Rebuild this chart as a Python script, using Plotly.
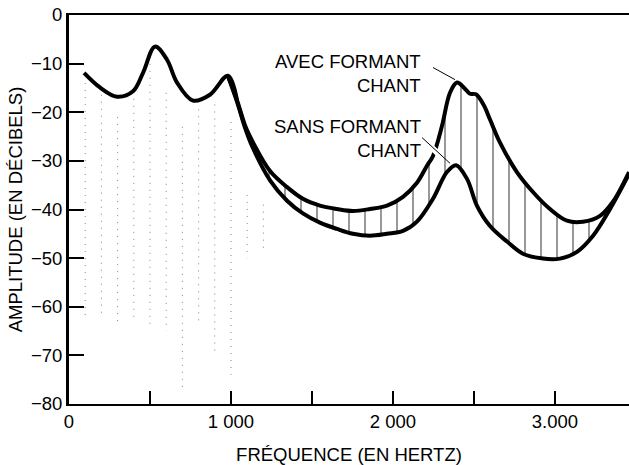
import plotly.graph_objects as go

# Spectrum envelope shared by both voices below ~1 kHz (Hz, dB)
shared_hz = [93, 191, 296, 395, 457, 531, 605, 667, 765, 870, 981]
shared_db = [-11.9, -14.9, -16.8, -15.7, -11.9, -6.5, -9.2, -13.9, -17.6, -16.4, -12.5]

# Upper envelope: with the singer's formant
avec_hz = [1037, 1090, 1136, 1241, 1346, 1444, 1549, 1654, 1753, 1858, 1963, 2062,
           2148, 2210, 2247, 2302, 2352, 2395, 2440, 2475, 2512, 2560, 2599, 2660,
           2765, 2864, 2969, 3074, 3173, 3278, 3358, 3457]
avec_db = [-17.5, -23.0, -26.2, -32.1, -35.4, -37.8, -39.2, -39.9, -40.3, -39.9, -39.2, -37.4,
           -34.5, -31.0, -29.0, -22.9, -16.0, -13.9, -15.0, -16.2, -16.3, -18.5, -21.5, -26.2,
           -32.3, -36.4, -39.9, -42.3, -42.5, -41.3, -38.4, -32.3]

# Lower envelope: without the singer's formant
sans_hz = [1037, 1090, 1136, 1241, 1346, 1444, 1549, 1654, 1753, 1858, 1963, 2062,
           2148, 2247, 2333, 2389, 2457, 2518, 2599, 2704, 2802, 2926, 3031, 3136,
           3235, 3340, 3457]
sans_db = [-17.8, -23.5, -27.4, -34.0, -38.2, -40.8, -42.7, -44.0, -45.0, -45.4, -45.0, -44.4,
           -42.5, -37.8, -32.3, -30.9, -33.7, -39.2, -43.4, -46.6, -49.1, -50.1, -50.1, -48.7,
           -45.4, -39.9, -32.7]

# Faint harmonic stems under the low-frequency envelope
stem_hz = [100, 200, 300, 400, 500, 600, 700, 800, 900, 1000, 1100, 1200]
stem_top_db = [-14, -16.4, -21, -15.8, -8.6, -16, -23, -19.4, -18.4, -22, -37, -39]
stem_floor_db = [-62, -62, -63, -63, -64.5, -65, -77, -64, -69, -74, -50, -48]

x_tick_vals = [0, 500, 1000, 1500, 2000, 2500, 3000]
x_tick_text = ["0", "", "1 000", "", "2 000", "", "3.000"]
y_tick_vals = [0, -10, -20, -30, -40, -50, -60, -70, -80]
y_tick_text = ["0", "−10", "−20", "−30", "−40", "−50", "−60", "−70", "−80"]

FONT = "Liberation Sans, Arial, sans-serif"
FS = 18.5

fig = go.Figure()

# dotted harmonic stems
sx, sy = [], []
for f, top, bot in zip(stem_hz, stem_top_db, stem_floor_db):
    sx += [f, f, None]
    sy += [top, bot, None]
fig.add_trace(go.Scatter(x=sx, y=sy, mode="lines",
                         line=dict(color="#808080", width=1, dash="1px,6px"),
                         hoverinfo="skip", showlegend=False))

# lower envelope (continues from the shared part)
fig.add_trace(go.Scatter(x=shared_hz[-1:] + sans_hz, y=shared_db[-1:] + sans_db,
                         mode="lines", line=dict(color="black", width=4, shape="spline"),
                         showlegend=False))
# upper envelope, hatched down to the lower one
fig.add_trace(go.Scatter(x=shared_hz[-1:] + avec_hz, y=shared_db[-1:] + avec_db,
                         mode="lines", line=dict(color="black", width=4, shape="spline"),
                         fill="tonexty", fillcolor="rgba(0,0,0,0)",
                         fillpattern=dict(shape="|", size=16, solidity=0.1,
                                          fgcolor="black", bgcolor="rgba(0,0,0,0)"),
                         showlegend=False))
# shared low-frequency envelope
fig.add_trace(go.Scatter(x=shared_hz + [avec_hz[0]], y=shared_db + [avec_db[0]],
                         mode="lines", line=dict(color="black", width=4, shape="spline"),
                         showlegend=False))

# white break where the lower leader crosses the upper curve
fig.add_shape(type="line", x0=2232, y0=-27.0, x1=2285, y1=-28.7,
              line=dict(color="white", width=6), layer="above")
# leader lines
fig.add_shape(type="line", x0=2247, y0=-10.8, x1=2383, y1=-13.3,
              line=dict(color="black", width=1), layer="above")
fig.add_shape(type="line", x0=2179, y0=-25.2, x1=2352, y1=-30.5,
              line=dict(color="black", width=1), layer="above")

fig.add_annotation(x=2188, y=-12.1, text="AVEC FORMANT<br>CHANT", showarrow=False,
                   xanchor="right", yanchor="middle", align="right",
                   font=dict(family=FONT, size=FS, color="black"))
fig.add_annotation(x=2188, y=-25.4, text="SANS FORMANT<br>CHANT", showarrow=False,
                   xanchor="right", yanchor="middle", align="right",
                   font=dict(family=FONT, size=FS, color="black"))

fig.update_layout(
    width=629, height=465,
    margin=dict(l=69, r=0, t=15, b=59),
    paper_bgcolor="white", plot_bgcolor="white",
    font=dict(family=FONT, size=FS, color="black"),
    xaxis=dict(range=[0, 3457], tickvals=x_tick_vals, ticktext=x_tick_text,
               ticks="inside", ticklen=13, tickwidth=2, tickcolor="black",
               showline=True, linecolor="black", linewidth=2, mirror=True,
               showgrid=False, zeroline=False,
               title=dict(text="FRÉQUENCE (EN HERTZ)", standoff=20,
                          font=dict(family=FONT, size=FS))),
    yaxis=dict(range=[-80, 0], tickvals=y_tick_vals, ticktext=y_tick_text,
               ticks="inside", ticklen=15, tickwidth=2, tickcolor="black",
               showline=True, linecolor="black", linewidth=3,
               showgrid=False, zeroline=False,
               title=dict(text="AMPLITUDE (EN DÉCIBELS)", standoff=4,
                          font=dict(family=FONT, size=FS))),
)

fig.write_html("out.html")
